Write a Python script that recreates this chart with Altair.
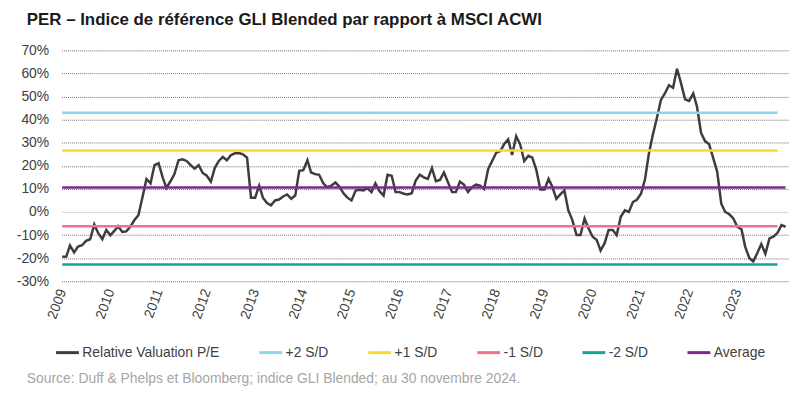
import altair as alt
import pandas as pd

# ---------------- data ----------------
start_month = "2009-01-01"
pe_values = [
    -19.4, -19.3, -14.5, -17.5, -15, -14.4, -12.5, -11.8, -5.4, -9.2,
    -11.8, -7.8, -10.1, -8.1, -6.1, -8.6, -8.4, -6.4, -3.6, -1.4,
    6.4, 14.3, 12.4, 20.3, 21.1, 15, 10.4, 13.3, 16.4, 22.4,
    22.8, 22.1, 20.3, 18.8, 20.3, 16.9, 15.7, 13.1, 19, 22.1,
    23.8, 22.4, 24.6, 25.4, 25.5,
    25, 23.5, 6.2, 6.2, 11.4, 6.2, 3.9, 2.9, 5, 5.4,
    6.7, 7.6, 5.7, 7.1, 17.8, 18.1, 22.4, 17.1, 16.4, 16.1,
    12.4, 10.7, 11.4, 12.8, 11, 8.1, 6.2, 5, 9.3, 9.6,
    9.3, 10.3, 8.6, 12.4, 9, 7.1, 16.1, 15.7, 8.6, 8.6,
    7.9, 7.6, 8.1, 13.6, 16.1, 15,
    14.3, 19, 13.3, 13.9, 17.1, 12.8, 8.6, 8.6, 13.1, 11.9,
    8.6, 10.7, 11.9, 11.4, 10, 18.6, 22.1, 25.7, 26.4, 29.3,
    31.4, 24.7, 32.8, 29.3, 22.1, 24.3, 23.5, 18.1, 9.7, 9.7,
    14.3, 11, 5.7, 7.6, 9.3, 0.7, -3.6, -10, -10, -2.8,
    -7.1, -10.7, -12.1, -16.7, -13.5,
    -7.8, -7.8, -10, -2.1, 0.7, 0, 4.3, 5.3, 7.9, 14.3,
    25, 33.5, 40.6, 48.5, 51.3, 54.9, 53.8, 62, 55.6, 48.8,
    48.1, 51.3, 45.7, 34.2, 30.7, 29.3, 23.5, 17.5, 3.6, 0,
    -1, -2.8, -6.4, -7.5, -15, -19.9, -21.4, -17.8, -13.9, -18.1,
    -11.4, -10.7, -9, -5.7, -6.4,
]

series_names = ["Relative Valuation P/E", "+2 S/D", "+1 S/D", "-1 S/D", "-2 S/D", "Average"]
series_colors = ["#3d3d3d", "#8dd5ea", "#fcd82f", "#f4708c", "#13a596", "#7a2a8c"]

ref_names = ["+2 S/D", "+1 S/D", "-1 S/D", "-2 S/D", "Average"]
ref_values = [43.0, 26.6, -6.2, -22.7, 10.6]
ref_start = ["2009-01-01"] * 5
ref_end = ["2023-11-01", "2023-11-01", "2023-11-01", "2023-11-01", "2024-01-01"]

y_ticks = [-30, -20, -10, 0, 10, 20, 30, 40, 50, 60, 70]
x_years = list(range(2009, 2024))

title_text = "PER \u2013 Indice de r\u00e9f\u00e9rence GLI Blended par rapport \u00e0 MSCI ACWI"
source_text = "Source: Duff & Phelps et Bloomberg; indice GLI Blended; au 30 novembre 2024."

# ---------------- frames ----------------
line_df = pd.DataFrame({
    "date": pd.date_range(start_month, periods=len(pe_values), freq="MS"),
    "value": pe_values,
    "series": series_names[0],
})
ref_df = pd.DataFrame({
    "series": ref_names,
    "value": ref_values,
    "start": pd.to_datetime(ref_start),
    "end": pd.to_datetime(ref_end),
})

FONT = "Liberation Sans"
LABEL_COLOR = "#404040"

color_scale = alt.Scale(domain=series_names, range=series_colors)
x_scale = alt.Scale(domain=[pd.Timestamp("2008-12-27").isoformat(), pd.Timestamp("2024-01-20").isoformat()])
y_scale = alt.Scale(domain=[-30, 70], nice=False)

legend = alt.Legend(
    title=None, orient="none", direction="horizontal", legendX=-7, legendY=292,
    symbolType="stroke", symbolSize=529, symbolStrokeWidth=3,
    labelFontSize=14, labelColor=LABEL_COLOR, labelFont=FONT,
    labelOffset=2, columnPadding=33, symbolOpacity=1,
)

x_axis = alt.Axis(
    values=[pd.Timestamp(f"{y}-01-01").isoformat() for y in x_years],
    format="%Y", labelAngle=-70, labelFontSize=14, labelColor=LABEL_COLOR,
    labelFont=FONT, labelPadding=8, ticks=False, domain=False, grid=False,
    title=None, labelOverlap=False,
)
y_axis = alt.Axis(
    values=y_ticks, labelExpr="datum.value + '%'", labelFontSize=14,
    labelColor=LABEL_COLOR, labelFont=FONT, labelPadding=13, ticks=False,
    domain=False, title=None, labelOverlap=False,
    gridColor={"condition": {"test": "datum.value === 0", "value": "#d9d9d9"}, "value": "#6e6e6e"},
    gridDash={"condition": {"test": "datum.value === 0", "value": []}, "value": [1, 1]},
    gridWidth={"condition": {"test": "datum.value === 0", "value": 1.5}, "value": 1},
)

main_line = alt.Chart(line_df).mark_line(strokeWidth=2.5).encode(
    x=alt.X("date:T", scale=x_scale, axis=x_axis),
    y=alt.Y("value:Q", scale=y_scale, axis=y_axis),
    color=alt.Color("series:N", scale=color_scale, legend=legend),
)

refs = alt.Chart(ref_df).mark_rule(strokeWidth=2.5).encode(
    x=alt.X("start:T", scale=x_scale, axis=x_axis),
    x2="end:T",
    y=alt.Y("value:Q", scale=y_scale, axis=y_axis),
    color=alt.Color("series:N", scale=color_scale, legend=legend),
)

source = alt.Chart(pd.DataFrame({"t": [source_text]})).mark_text(
    align="left", baseline="alphabetic", fontSize=14, font=FONT, color="#a6a6a6"
).encode(text="t:N", x=alt.value(-35), y=alt.value(336))

chart = alt.layer(main_line, refs, source).properties(
    width=733, height=233,
    background="white",
    autosize=alt.AutoSizeParams(type="none"),
    padding={"left": 54, "top": 41, "right": 10, "bottom": 108},
    title=alt.TitleParams(
        text=title_text, anchor="start", frame="group", dx=-35, fontSize=17,
        fontWeight="bold", font=FONT, color="#1a1a1a", offset=15,
    ),
).configure_view(strokeWidth=0).configure_axis(labelOverlap=False)

chart.save("out.html", embed_options={"renderer": "svg", "actions": False})
